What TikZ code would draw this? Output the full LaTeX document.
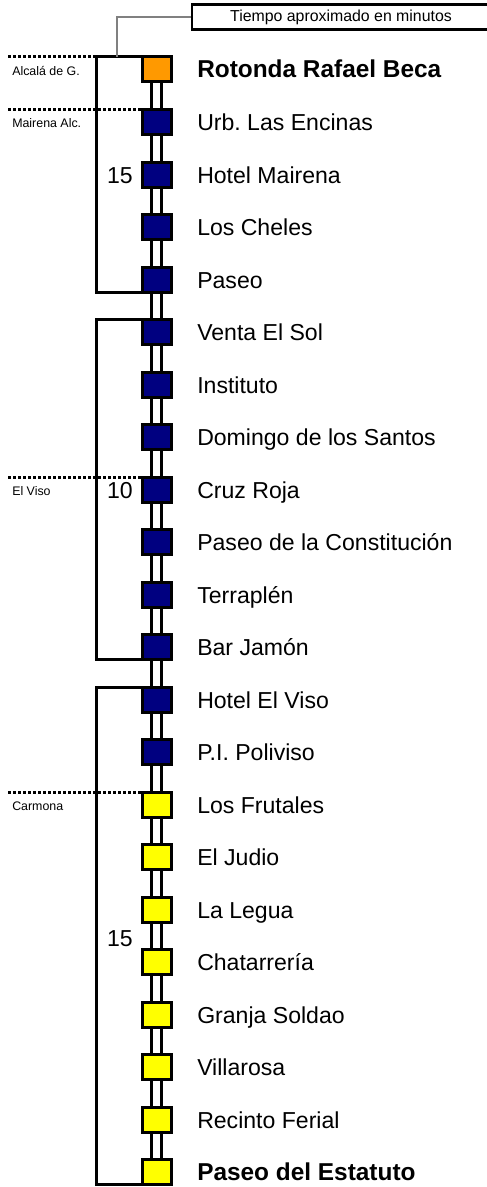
\documentclass[tikz,border=0pt]{standalone}
\usepackage{fontspec}
\setmainfont{Liberation Sans}
\frenchspacing
\definecolor{stOrange}{HTML}{FF9900}
\definecolor{stNavy}{HTML}{000080}
\definecolor{stYellow}{HTML}{FFFF00}
\definecolor{legGrey}{HTML}{808080}
\begin{document}
\begin{tikzpicture}[x=0.75pt,y=-0.75pt,
  stn/.style={draw=black,line width=2.25pt,minimum width=21.75pt,minimum height=18.75pt,inner sep=0pt,outer sep=0pt},
  regname/.style={anchor=base west,inner sep=0pt,font=\fontsize{17.3}{20}\selectfont},
  boldname/.style={anchor=base west,inner sep=0pt,font=\fontsize{18.3}{20}\selectfont\bfseries},
  town/.style={anchor=base west,inner sep=0pt,font=\fontsize{9.3}{11}\selectfont},
  num/.style={anchor=base east,inner sep=0pt,font=\fontsize{17.3}{20}\selectfont},
  rail/.style={line width=2.25pt},
  brk/.style={line width=2.25pt,line join=miter},
  dotline/.style={line width=2.25pt,dash pattern=on 2.25pt off 1.5pt},
  legbox/.style={draw=black,line width=2.1pt,minimum width=223.5pt,minimum height=18.9pt,inner sep=0pt,font=\fontsize{11.9}{14}\selectfont},
  leader/.style={draw=legGrey,line width=1.1pt}]
\useasboundingbox (0,0) rectangle (486,1187);
\coordinate (bx) at (96,0);
\coordinate (dl) at (8,0);
\coordinate (gc) at (117,0);
% stations
\foreach \lab/\col/\st [count=\i from 0] in {
  Rotonda Rafael Beca/stOrange/boldname,
  Urb. Las Encinas/stNavy/regname,
  Hotel Mairena/stNavy/regname,
  Los Cheles/stNavy/regname,
  Paseo/stNavy/regname,
  Venta El Sol/stNavy/regname,
  Instituto/stNavy/regname,
  Domingo de los Santos/stNavy/regname,
  Cruz Roja/stNavy/regname,
  Paseo de la Constitución/stNavy/regname,
  Terraplén/stNavy/regname,
  Bar Jamón/stNavy/regname,
  Hotel El Viso/stNavy/regname,
  P.I. Poliviso/stNavy/regname,
  Los Frutales/stYellow/regname,
  El Judio/stYellow/regname,
  La Legua/stYellow/regname,
  Chatarrería/stYellow/regname,
  Granja Soldao/stYellow/regname,
  Villarosa/stYellow/regname,
  Recinto Ferial/stYellow/regname,
  Paseo del Estatuto/stYellow/boldname}{
  \pgfmathsetmacro\yy{69.5+\i*52.52}
  \node[stn,fill=\col] (s\i) at (156.5,\yy) {};
  \node[\st] (t\i) at (197,\yy+8.5) {\lab};
}
% rails
\foreach \i [evaluate=\i as \j using int(\i+1)] in {0,...,20}{
  \draw[rail] ([xshift=-3.4pt]s\i.south) -- ([xshift=-3.4pt]s\j.north);
  \draw[rail] ([xshift=3.4pt]s\i.south) -- ([xshift=3.4pt]s\j.north);
}
% brackets
\draw[brk] (s0.north west) -- (s0.north west -| bx) |- (s4.south west);
\draw[brk] (s5.north west) -- (s5.north west -| bx) |- (s11.south west);
\draw[brk] (s12.north west) -- (s12.north west -| bx) |- (s21.south west);
% times
\node[num] (n1) at (133,183.5) {15};
\node[num] (n2) at (133,498) {10};
\node[num] (n3) at (133,946) {15};
% town boundaries
\draw[dotline] (s0.north west -| dl) -- (s0.north west -| bx);
\draw[dotline] (s1.north west -| dl) -- (s1.north west);
\draw[dotline] (s8.north west -| dl) -- (s8.north west);
\draw[dotline] (s14.north west -| dl) -- (s14.north west);
\node[town] (a0) at (12,75.5) {Alcalá de G.};
\node[town] (a1) at (12,128) {Mairena Alc.};
\node[town] (a2) at (12,495) {El Viso};
\node[town] (a3) at (12,810) {Carmona};
% legend
\node[legbox] (leg) at (341,17) {Tiempo aproximado en minutos};
\draw[leader] (leg.west) -| (gc |- s0.north);
\end{tikzpicture}
\end{document}
